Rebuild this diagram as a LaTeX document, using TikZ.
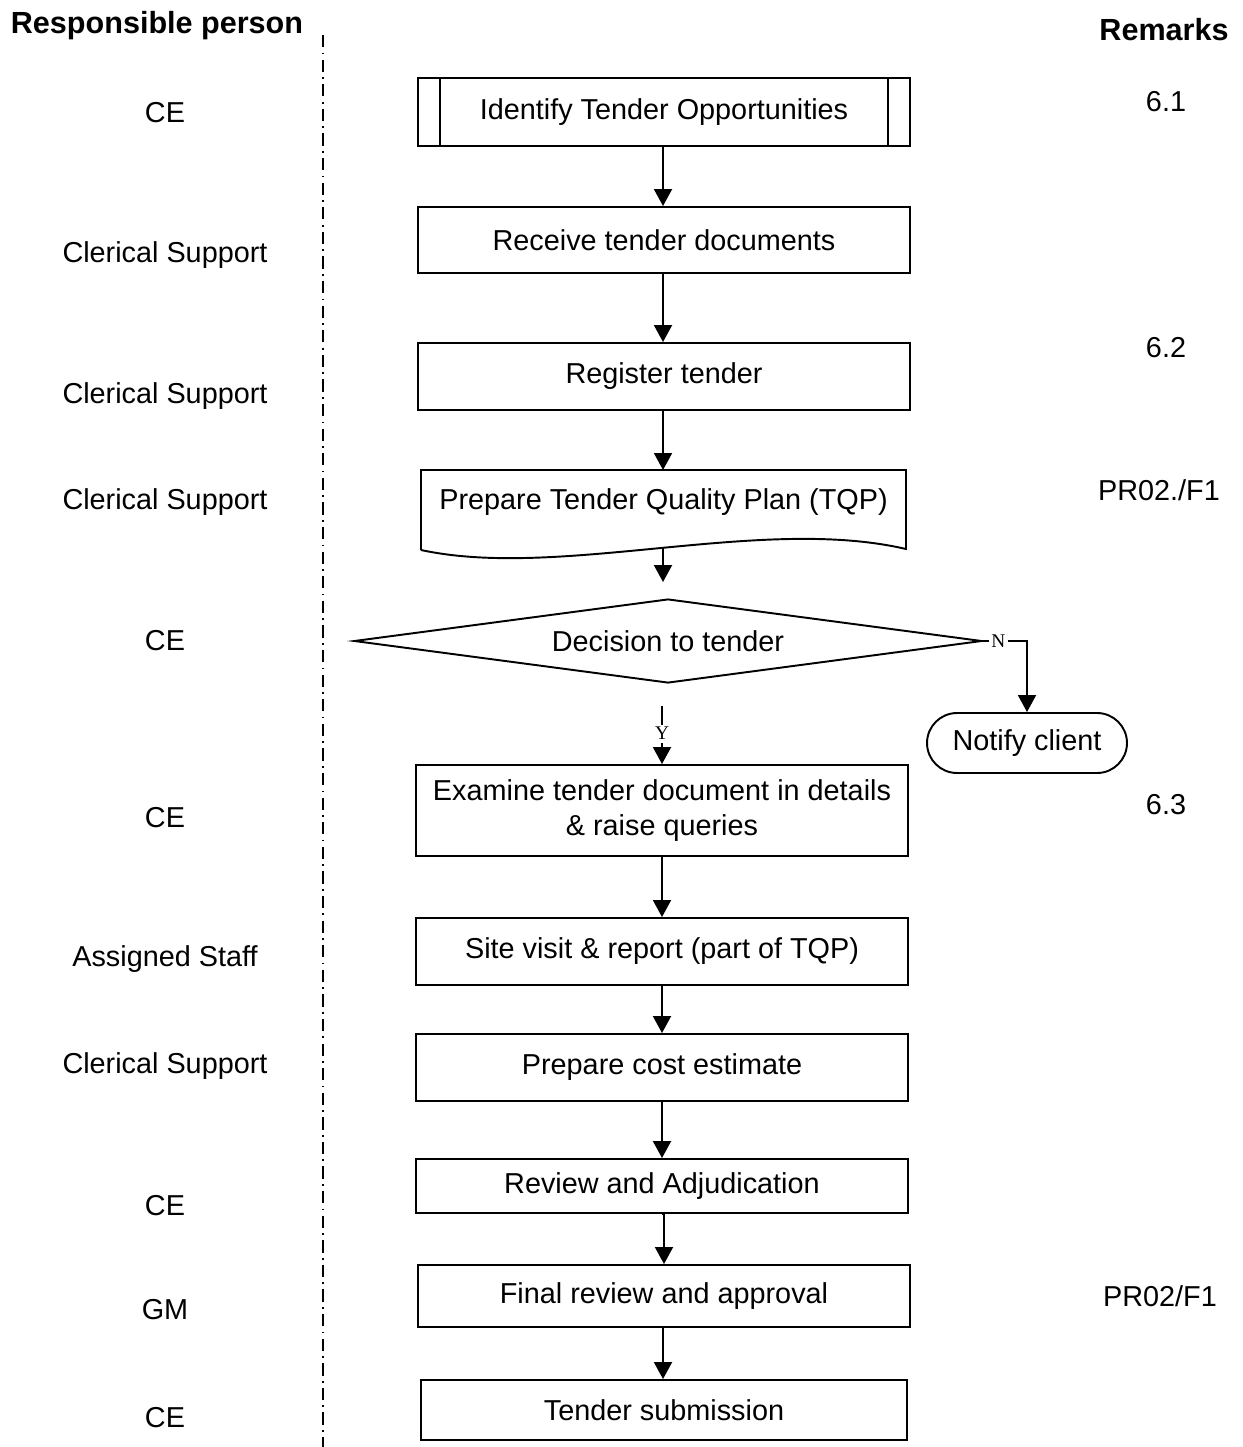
\documentclass[tikz,border=0pt]{standalone}
\usepackage{fontspec}
\setmainfont{Liberation Sans}
\newfontfamily\ynfont{Liberation Serif}
\usetikzlibrary{arrows.meta,shapes.geometric,calc}

\begin{document}
\begin{tikzpicture}[x=0.02cm,y=-0.02cm,line width=1.1pt,
    font=\fontsize{16.4}{19.7}\selectfont,
    box/.style={draw,rectangle,inner sep=0pt,minimum width=9.84cm,align=center},
    head/.style={font=\fontsize{17.4}{20}\selectfont\bfseries},
    who/.style={},
    rmk/.style={},
    yn/.style={font=\ynfont\fontsize{11}{12}\selectfont,fill=white,inner sep=1.5pt},
    arr/.style={-{Triangle[length=0.34cm,width=0.36cm]}}]
  \useasboundingbox (0,0) rectangle (1242,1447);

  % Column headings and divider
  \node[head] (hwho) at (157,26) {Responsible person};
  \node[head] (hrmk) at (1164,30) {Remarks};
  \draw[line width=0.8pt,dash pattern=on 7pt off 3pt on 1pt off 3pt] (323,35) -- (323,1447);
  \coordinate (col) at (663,0);  % main flow line

  % Process steps
  \node[box,minimum height=1.36cm] (ident) at (664,112) {Identify Tender Opportunities};
  \draw ($(ident.north west)+(23,0)$) -- ($(ident.south west)+(23,0)$);
  \draw ($(ident.north east)+(-23,0)$) -- ($(ident.south east)+(-23,0)$);
  \node[box,minimum height=1.32cm] (recv) at (664,240) {Receive tender documents};
  \node[box,minimum height=1.34cm] (reg) at (664,376.5) {Register tender};
  \node (tqp) at (663.5,502) {Prepare Tender Quality Plan (TQP)};
  \draw (421,550) -- (421,470) -- (906,470) -- (906,549)
        .. controls (760,515) and (560,580) .. (421,550);
  \coordinate (tqptop) at (663,470);
  \coordinate (tqpbot) at (663,548);
  \node[draw,diamond,aspect=7.48,inner sep=0pt,minimum width=12.56cm,minimum height=1.68cm] (dec) at (668,641) {Decision to tender};
  \node[draw,rectangle,rounded corners=0.6cm,inner sep=0pt,minimum width=4cm,minimum height=1.2cm] (notify) at (1027,743) {Notify client};
  \node[box,minimum height=1.82cm] (exam) at (662,810.5) {Examine tender document in details\\ \& raise queries};
  \node[box,minimum height=1.34cm] (site) at (662,951.5) {Site visit \& report (part of TQP)};
  \node[box,minimum height=1.34cm] (cost) at (662,1067.5) {Prepare cost estimate};
  \node[box,minimum height=1.08cm] (rev) at (662,1186) {Review and Adjudication};
  \node[box,minimum height=1.24cm] (final) at (664,1296) {Final review and approval};
  \node[box,minimum width=9.72cm,minimum height=1.2cm] (sub) at (664,1410) {Tender submission};

  % Connectors
  \draw[arr] (ident.south -| col) -- (recv.north -| col);
  \draw[arr] (recv.south -| col) -- (reg.north -| col);
  \draw[arr] (reg.south -| col) -- (tqptop);
  \draw[arr,shorten >=0.32cm] (tqpbot) -- (tqpbot |- dec.north);
  \draw[arr,shorten <=0.44cm] (exam.north |- dec.south) -- node[yn,pos=0.62] {Y} (exam.north);
  \draw[arr] (dec.east) -- node[yn,pos=0.35] {N} (dec.east -| notify.north) -- (notify.north);
  \draw[arr] (exam.south) -- (site.north);
  \draw[arr] (site.south) -- (cost.north);
  \draw[arr] (cost.south) -- (rev.north);
  \draw[arr] (rev.south) -- (final.south |- rev.south) -- (final.north);
  \draw[arr] (final.south -| col) -- (sub.north -| col);

  % Responsible person
  \node[who] (w1) at (165,113) {CE};
  \node[who] (w2) at (165,255) {Clerical Support};
  \node[who] (w3) at (165,396) {Clerical Support};
  \node[who] (w4) at (165,502) {Clerical Support};
  \node[who] (w5) at (165,641) {CE};
  \node[who] (w6) at (165,818) {CE};
  \node[who] (w7) at (165,959) {Assigned Staff};
  \node[who] (w8) at (165,1066) {Clerical Support};
  \node[who] (w9) at (165,1206) {CE};
  \node[who] (w10) at (165,1310) {GM};
  \node[who] (w11) at (165,1418) {CE};

  % Remarks
  \node[rmk] (r1) at (1166,102) {6.1};
  \node[rmk] (r2) at (1166,348) {6.2};
  \node[rmk] (r3) at (1159,490) {PR02./F1};
  \node[rmk] (r4) at (1166,805) {6.3};
  \node[rmk] (r5) at (1160,1296) {PR02/F1};
\end{tikzpicture}
\end{document}
